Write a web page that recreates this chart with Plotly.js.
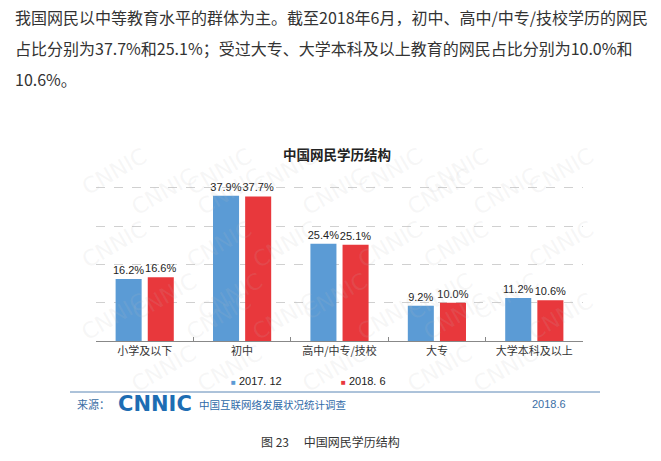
<!DOCTYPE html>
<html>
<head>
<meta charset="utf-8">
<script src="https://cdn.plot.ly/plotly-3.0.1.min.js"></script>
<style>html,body{margin:0;padding:0;background:#fff;}#chart{width:661px;height:461px;}</style>
</head>
<body>
<div id="chart"></div>
<script>
// ---- data ----
const categories = ['小学及以下', '初中', '高中/中专/技校', '大专', '大学本科及以上'];
const series2017 = [16.2, 37.9, 25.4, 9.2, 11.2];
const series2018 = [16.6, 37.7, 25.1, 10.0, 10.6];
const seriesNames = ['2017. 12', '2018. 6'];

const W = 661, H = 461;
const px = x => x / W;
const py = y => 1 - y / H;
const CJK = '"Noto Sans CJK SC", "Noto Sans", sans-serif';
const blue = '#5b9bd5', red = '#e8383c';

const traces = [
  {type: 'bar', name: seriesNames[0], x: categories, y: series2017, marker: {color: blue},
   texttemplate: '%{y:.1f}%', textposition: 'outside', cliponaxis: false, constraintext: 'none',
   textfont: {family: 'Liberation Sans, Arial, sans-serif', size: 11, color: '#222'}, showlegend: false, hoverinfo: 'skip'},
  {type: 'bar', name: seriesNames[1], x: categories, y: series2018, marker: {color: red},
   texttemplate: '%{y:.1f}%', textposition: 'outside', cliponaxis: false, constraintext: 'none',
   textfont: {family: 'Liberation Sans, Arial, sans-serif', size: 11, color: '#222'}, showlegend: false, hoverinfo: 'skip'}
];

const annotations = [];
// paragraph
const para = [
  '我国网民以中等教育水平的群体为主。截至2018年6月，初中、高中/中专/技校学历的网民',
  '占比分别为37.7%和25.1%；受过大专、大学本科及以上教育的网民占比分别为10.0%和',
  '10.6%。'
];
const paraY = [17, 48, 79];
para.forEach((t, i) => annotations.push({xref: 'paper', yref: 'paper', x: px(13), y: py(paraY[i]), xanchor: 'left', yanchor: 'middle',
  text: t, showarrow: false, font: {family: CJK, size: 16, color: '#333'}}));

// watermark
for (let r = 0; r < 6; r++) {
  for (let c = 0; c < 6; c++) {
    const wx = 75 + c * 105 + (r % 2) * 50;
    const wy = 140 + r * 52;
    if (wx > 630) continue;
    annotations.push({xref: 'paper', yref: 'paper', x: px(wx), y: py(wy), showarrow: false, textangle: -30,
      text: 'CNNIC', font: {family: 'DejaVu Sans', size: 22, color: 'rgba(190,190,190,0.13)'}});
  }
}

// legend (manual)
annotations.push({xref: 'paper', yref: 'paper', x: px(229), y: py(381), xanchor: 'left', yanchor: 'middle', showarrow: false,
  text: '<span style="color:' + blue + ';font-size:8px">■</span> ' + seriesNames[0], font: {family: 'Liberation Sans, Arial, sans-serif', size: 11, color: '#222'}});
annotations.push({xref: 'paper', yref: 'paper', x: px(339), y: py(381), xanchor: 'left', yanchor: 'middle', showarrow: false,
  text: '<span style="color:' + red + ';font-size:8px">■</span> ' + seriesNames[1], font: {family: 'Liberation Sans, Arial, sans-serif', size: 11, color: '#222'}});

// source footer
annotations.push({xref: 'paper', yref: 'paper', x: px(75), y: py(404), xanchor: 'left', yanchor: 'middle', showarrow: false,
  text: '来源：', font: {family: CJK, size: 11, color: '#3a6ea5'}});
annotations.push({xref: 'paper', yref: 'paper', x: px(116), y: py(404), xanchor: 'left', yanchor: 'middle', showarrow: false,
  text: '<b>CNNIC</b>', font: {family: 'DejaVu Sans', size: 21, color: '#1d6db3'}});
annotations.push({xref: 'paper', yref: 'paper', x: px(197), y: py(404), xanchor: 'left', yanchor: 'middle', showarrow: false,
  text: '中国互联网络发展状况统计调查', font: {family: CJK, size: 10.5, color: '#2f6aa8'}});
annotations.push({xref: 'paper', yref: 'paper', x: px(568), y: py(404), xanchor: 'right', yanchor: 'middle', showarrow: false,
  text: '2018.6', font: {family: 'Liberation Sans, Arial, sans-serif', size: 11, color: '#3a6ea5'}});

// caption
annotations.push({xref: 'paper', yref: 'paper', x: px(330), y: py(441), xanchor: 'center', yanchor: 'middle', showarrow: false,
  text: '图 23　 中国网民学历结构', font: {family: CJK, size: 12, color: '#333'}});

const layout = {
  width: W, height: H,
  margin: {l: 0, r: 0, t: 0, b: 0},
  paper_bgcolor: '#fff', plot_bgcolor: 'rgba(0,0,0,0)',
  title: {text: '中国网民学历结构', x: px(337), xanchor: 'center', y: py(155), yanchor: 'middle', xref: 'paper', yref: 'paper',
    font: {family: CJK, size: 13.5, color: '#222', weight: 'bold'}},
  barmode: 'group', bargap: 0.34, bargroupgap: 0.19,
  xaxis: {domain: [px(96), px(583)], anchor: 'y', showline: true, linecolor: '#888', linewidth: 1,
    ticks: 'inside', tickson: 'boundaries', ticklen: 4, tickcolor: '#888',
    tickfont: {family: CJK, size: 11, color: '#333'}, fixedrange: true},
  yaxis: {domain: [py(341), py(168.5)], range: [0, 45], dtick: 10, showticklabels: false, zeroline: false,
    showgrid: true, gridcolor: '#d0d0d0', griddash: 'dash', gridwidth: 1, showline: false, ticks: ''},
  shapes: [
    {type: 'line', xref: 'paper', yref: 'paper', x0: px(70), x1: px(600), y0: py(392), y1: py(392), line: {color: '#5a86b5', width: 1}}
  ],
  annotations: annotations,
  showlegend: false
};

Plotly.newPlot('chart', traces, layout, {staticPlot: true, displayModeBar: false});
</script>
</body>
</html>
